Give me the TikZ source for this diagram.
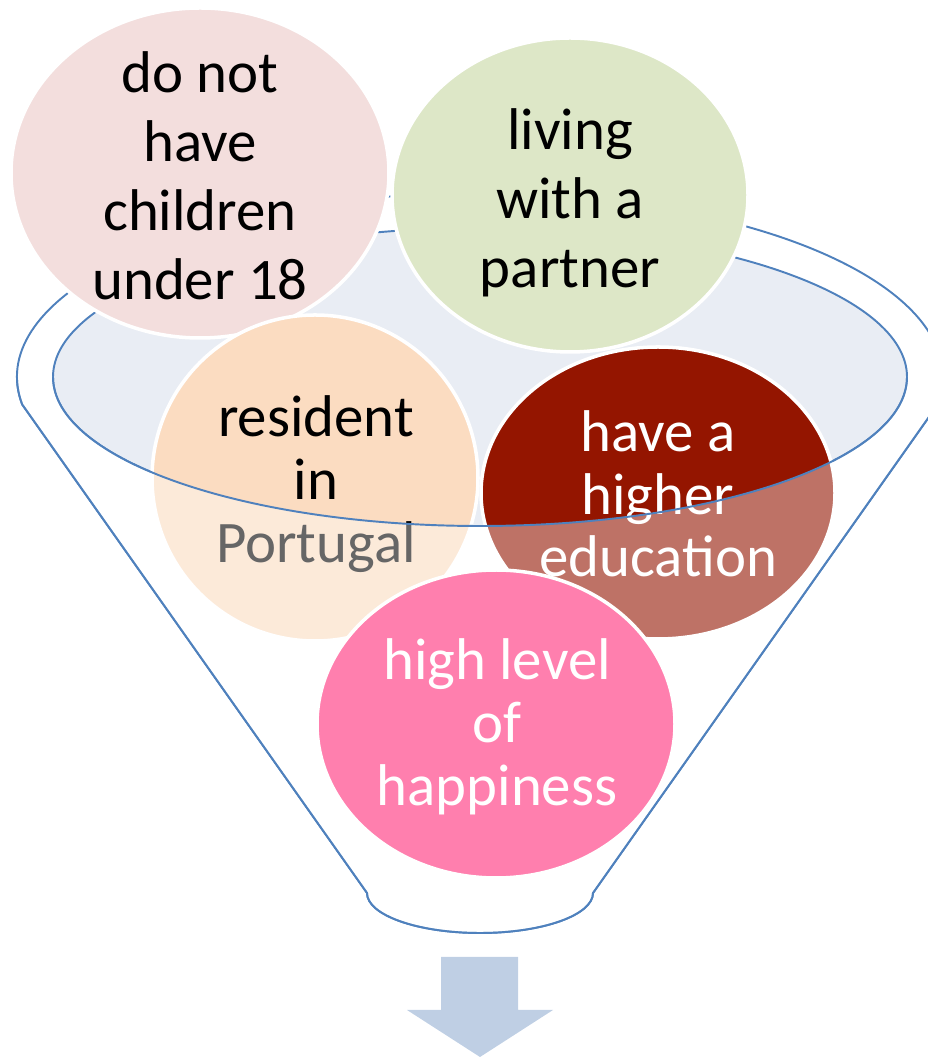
\documentclass[tikz,border=0pt]{standalone}
\usepackage{fontspec}
\setmainfont{Carlito}

\definecolor{linea}{HTML}{4F81BD}
\definecolor{boca}{HTML}{E9EDF4}
\definecolor{rosa}{HTML}{F3DEDD}
\definecolor{oliva}{HTML}{DDE7C7}
\definecolor{durazno}{HTML}{FBDCC1}
\definecolor{vino}{HTML}{941500}
\definecolor{fucsia}{HTML}{FF7FAE}
\definecolor{flecha}{HTML}{BFCFE4}

\tikzset{
  borde/.style={draw=linea, line width=1.1pt},
  circulo/.style={draw=white, line width=2pt},
  texto/.style={align=center, inner sep=0pt, font=\fontsize{33.5}{39.2}\selectfont},
  textob/.style={align=center, inner sep=0pt, font=\fontsize{33.5}{35.7}\selectfont}
}

\begin{document}
\begin{tikzpicture}[x=0.02cm, y=0.02cm]
        \useasboundingbox (0,0) rectangle (928,1060);

        % Paso 1: Dibuja el contorno trasero del embudo
        \draw[borde] (22.2,655.5) arc[start angle=188.6, end angle=-8.6, x radius=463, y radius=184]
          -- (593,167) arc[start angle=0, end angle=-180, x radius=113, y radius=40] -- cycle;

        % Paso 2: Rellena la boca del embudo
        \filldraw[borde, fill=boca] (480,683) ellipse[x radius=427, y radius=149];

        % Paso 3: Dibuja los circulos de arriba y sus textos
        \filldraw[circulo, fill=rosa] (200,887) ellipse[x radius=189, y radius=165];
        \node[texto] (H) at (200,884) {do not\\have\\children\\under 18};
        \filldraw[circulo, fill=oliva] (570,865) ellipse[x radius=178, y radius=157];
        \node[texto] (P) at (570,857) {living\\with a\\partner};

        % Paso 4: Dibuja los circulos dentro del embudo
        \filldraw[circulo, fill=durazno] (315,582) ellipse[x radius=163, y radius=163];
        \node[textob] (R) at (316,576) {resident\\in\\Portugal};
        \filldraw[circulo, fill=vino] (658,567) ellipse[x radius=177, y radius=146];
        \node[textob, text=white] (E) at (658,566) {have a\\higher\\education};

        % Paso 5: Cubre la parte delantera del embudo
        \fill[white, fill opacity=0.4] (17,683) -- (53,683)
          arc[start angle=180, end angle=360, x radius=427, y radius=149] -- (943,683)
          arc[start angle=0, end angle=-8.6, x radius=463, y radius=184] -- (593,167)
          arc[start angle=0, end angle=-180, x radius=113, y radius=40] -- (22.2,655.5)
          arc[start angle=188.6, end angle=180, x radius=463, y radius=184] -- cycle;
        \draw[borde] (53,683) arc[start angle=180, end angle=360, x radius=427, y radius=149];
        \draw[borde] (943,683) arc[start angle=0, end angle=-8.6, x radius=463, y radius=184]
          -- (593,167) arc[start angle=0, end angle=-180, x radius=113, y radius=40]
          -- (22.2,655.5) arc[start angle=188.6, end angle=180, x radius=463, y radius=184];

        % Paso 6: Dibuja el resultado
        \filldraw[circulo, fill=fucsia] (496,336) ellipse[x radius=179, y radius=154];
        \node[textob, text=white] (F) at (497,333) {high level\\of\\happiness};

        % Paso 7: Dibuja la flecha de salida
        \fill[flecha] (441,103) -- (518,103) -- (518,50) -- (553,50) -- (480,3)
          -- (407,50) -- (441,50) -- cycle;
\end{tikzpicture}
\end{document}
